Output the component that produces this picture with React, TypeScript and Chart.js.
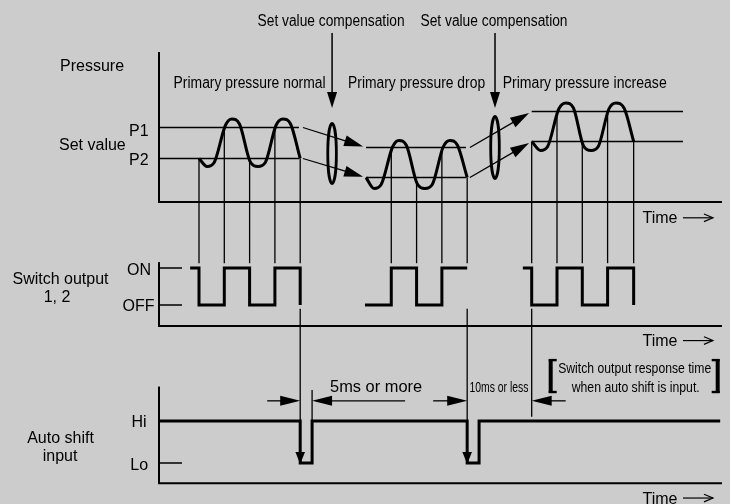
import React, { useEffect, useRef } from "react";
import { Chart, registerables } from "chart.js";

Chart.register(...registerables);

// ---------------- data ----------------
const sectionLabels = ["Primary pressure normal", "Primary pressure drop", "Primary pressure increase"];
const compensationLabel = "Set value compensation";
const pressureLabel = "Pressure";
const setValueLabel = "Set value";
const setValueNames = ["P1", "P2"];
const switchTitle = ["Switch output", "1, 2"];
const switchLevelNames = ["OFF", "ON"];
const autoTitle = ["Auto shift", "input"];
const autoLevelNames = ["Lo", "Hi"];
const timeLabel = "Time";
const timingLabels = ["5ms or more", "10ms or less"];
const responseNote = ["Switch output response time", "when auto shift is input."];

// pressure waves: time (half periods) and pressure
const waveNormalT = [0, 0.32, 0.6, 1.05, 1.3, 1.6, 2.03, 2.33, 2.62, 3.05, 3.32, 3.62, 4.0];
const waveNormalP = [4.35, 3.55, 3.95, 7.7, 8.3, 7.8, 4.0, 3.55, 3.95, 7.7, 8.3, 7.8, 4.35];
const waveDropT = [6.6, 6.92, 7.2, 7.65, 7.9, 8.2, 8.63, 8.93, 9.22, 9.65, 9.92, 10.22, 10.6];
const waveDropP = [2.45, 1.35, 1.75, 5.5, 6.15, 5.65, 1.8, 1.35, 1.75, 5.5, 6.15, 5.65, 2.45];
const waveIncreaseT = [13.15, 13.5, 13.78, 14.22, 14.5, 14.8, 15.2, 15.5, 15.78, 16.2, 16.48, 16.8, 17.18];
const waveIncreaseP = [6.05, 5.15, 5.55, 9.3, 9.9, 9.4, 5.6, 5.15, 5.55, 9.3, 9.9, 9.4, 6.05];

// set values per section
const setP1 = [7.45, 5.45, 9.05];
const setP2 = [4.35, 2.45, 6.05];
const setFrom = [-1.58, 6.6, 13.15];
const setTo = [3.95, 10.55, 19.13];

// switch output (0 = OFF, 1 = ON)
const switchNormalT = [-0.35, 0, 1, 2, 3, 4];
const switchNormalV = [1, 0, 1, 0, 1, 0];
const switchDropT = [6.56, 7.6, 8.6, 9.6, 10.6];
const switchDropV = [0, 1, 0, 1, 1];
const switchIncreaseT = [12.8, 13.15, 14.15, 15.15, 16.15, 17.18];
const switchIncreaseV = [1, 0, 1, 0, 1, 0];

// auto shift input (0 = Lo, 1 = Hi)
const autoT = [-1.58, 4, 4.47, 10.6, 11.07, 20.6];
const autoV = [1, 0, 1, 0, 1, 1];

// set value compensation events
const compensationT = [5.26, 11.7];
const compensationP = [4.85, 5.45];
const compensationSpan = [3.0, 3.1];

// ---------------- layout / style ----------------
const W = 730;
const H = 504;
const BG = "#cccccc";
const INK = "#000000";
const FONT = '"Liberation Sans", Arial, Helvetica, sans-serif';
const AXIS_T = -1.58;
const END_T = 20.67;

const T_ZERO_PX = 199;
const T_PX = 25.3;
function yRange(zeroPx: number, pxPerUnit: number) {
  return { min: (zeroPx - H) / pxPerUnit, max: zeroPx / pxPerUnit };
}
const pRange = yRange(202, 10);
const sRange = yRange(305, 37);
const aRange = yRange(463, 42);

function pts(T: number[], V: number[]) {
  return T.map((t, i) => ({ x: t, y: V[i] }));
}

function line(ctx: CanvasRenderingContext2D, x0: number, y0: number, x1: number, y1: number, w: number) {
  ctx.beginPath();
  ctx.lineWidth = w;
  ctx.moveTo(x0, y0);
  ctx.lineTo(x1, y1);
  ctx.stroke();
}

function head(ctx: CanvasRenderingContext2D, xt: number, yt: number, dx: number, dy: number, len: number, half: number) {
  const L = Math.hypot(dx, dy);
  const ux = dx / L;
  const uy = dy / L;
  const bx = xt - ux * len;
  const by = yt - uy * len;
  ctx.beginPath();
  ctx.moveTo(xt, yt);
  ctx.lineTo(bx - uy * half, by + ux * half);
  ctx.lineTo(bx + uy * half, by - ux * half);
  ctx.closePath();
  ctx.fill();
}

function arrow(ctx: CanvasRenderingContext2D, x0: number, y0: number, x1: number, y1: number, w: number, len: number, half: number) {
  const dx = x1 - x0;
  const dy = y1 - y0;
  const L = Math.hypot(dx, dy);
  line(ctx, x0, y0, x1 - (dx / L) * (len - 2), y1 - (dy / L) * (len - 2), w);
  head(ctx, x1, y1, dx, dy, len, half);
}

function text(ctx: CanvasRenderingContext2D, str: string, x: number, y: number, align: CanvasTextAlign, size: number, fit?: number) {
  ctx.save();
  ctx.font = `${size}px ${FONT}`;
  ctx.textBaseline = "alphabetic";
  ctx.textAlign = align;
  const w = ctx.measureText(str).width;
  const sx = fit ? fit / w : 1;
  ctx.translate(x, y);
  ctx.scale(sx, 1);
  ctx.fillText(str, 0, 0);
  ctx.restore();
}

function curveY(chart: any, dsIndex: number, px: number): number | null {
  const meta = chart.getDatasetMeta(dsIndex);
  try {
    meta.dataset && meta.dataset.updateControlPoints && meta.dataset.updateControlPoints(chart.chartArea, "x");
  } catch (e) {}
  const p = meta.data as any[];
  for (let i = 0; i < p.length - 1; i++) {
    const a = p[i];
    const b = p[i + 1];
    if (px >= a.x - 0.6 && px <= b.x + 0.6) {
      const s = Math.min(1, Math.max(0, (px - a.x) / (b.x - a.x)));
      const y1 = a.cp2y ?? a.y;
      const y2 = b.cp1y ?? b.y;
      const u = 1 - s;
      return u * u * u * a.y + 3 * u * u * s * y1 + 3 * u * s * s * y2 + s * s * s * b.y;
    }
  }
  return null;
}

const diagramPlugin = {
  id: "diagram",
  beforeDraw(chart: any) {
    const ctx = chart.ctx as CanvasRenderingContext2D;
    ctx.save();
    ctx.fillStyle = BG;
    ctx.fillRect(0, 0, chart.width, chart.height);
    ctx.restore();
  },
  afterDatasetsDraw(chart: any) {
    const ctx = chart.ctx as CanvasRenderingContext2D;
    const sc = chart.scales;
    const X = (t: number) => sc.x.getPixelForValue(t);
    const P = (v: number) => sc.yP.getPixelForValue(v);
    const S = (v: number) => sc.yS.getPixelForValue(v);
    const A = (v: number) => sc.yA.getPixelForValue(v);
    const ax = X(AXIS_T);
    const ex = X(END_T);

    ctx.save();
    ctx.strokeStyle = INK;
    ctx.fillStyle = INK;
    ctx.lineCap = "butt";

    // axes frames
    line(ctx, ax, P(15.0), ax, P(0), 2);
    line(ctx, ax - 1, P(0), ex, P(0), 2);
    line(ctx, ax, S(1.16), ax, S(-0.57), 2);
    line(ctx, ax - 1, S(-0.57), ex, S(-0.57), 2);
    line(ctx, ax, A(1.82), ax, A(-0.483), 2);
    line(ctx, ax - 1, A(-0.483), ex, A(-0.483), 2);

    // level ticks
    line(ctx, ax, S(1), ax + 23, S(1), 1.5);
    line(ctx, ax, S(0), ax + 23, S(0), 1.5);
    line(ctx, ax, A(0), ax + 23, A(0), 1.5);

    // connectors wave -> switch output
    const groups: [number, number[]][] = [
      [0, switchNormalT.slice(1)],
      [1, switchDropT.slice(1)],
      [2, switchIncreaseT.slice(1)],
    ];
    groups.forEach(([ds, times]) => {
      times.forEach((t) => {
        const x = X(t);
        const yTop = curveY(chart, ds, x);
        line(ctx, x, yTop == null ? P(setP2[ds]) : yTop, x, S(1.13), 1.3);
      });
    });

    // long verticals switch -> auto shift
    line(ctx, X(autoT[1]), S(-0.1), X(autoT[1]), A(1), 1.3);
    line(ctx, X(autoT[2]), A(1.74), X(autoT[2]), A(1), 1.3);
    line(ctx, X(autoT[3]), S(-0.1), X(autoT[3]), A(1), 1.3);
    line(ctx, X(switchIncreaseT[1]), S(-0.1), X(switchIncreaseT[1]), A(1.1), 1.3);

    // auto shift drop arrowheads
    [autoT[1], autoT[3]].forEach((t) => head(ctx, X(t), A(0) + 1, 0, 1, 12, 4.8));

    // dimension arrows
    const dy = A(1.48);
    arrow(ctx, X(autoT[1]) - 33, dy, X(autoT[1]), dy, 1.3, 20, 5);
    arrow(ctx, X(autoT[2]) + 93, dy, X(autoT[2]), dy, 1.3, 20, 5);
    arrow(ctx, X(autoT[3]) - 34, dy, X(autoT[3]), dy, 1.3, 20, 5);
    arrow(ctx, X(switchIncreaseT[1]) + 34, dy, X(switchIncreaseT[1]), dy, 1.3, 20, 5);

    // compensation arrows and ellipses
    compensationT.forEach((t, i) => {
      const x = X(t);
      arrow(ctx, x, P(16.9), x, P(9.4), 1.5, 16, 5);
      const cy = P(compensationP[i]);
      const ry = Math.abs(P(compensationP[i] - compensationSpan[i]) - cy);
      ctx.beginPath();
      ctx.lineWidth = 2.8;
      ctx.ellipse(x, cy, 4.3, ry, 0, 0, Math.PI * 2);
      ctx.stroke();
    });

    // set value shift arrows
    for (let i = 0; i < 2; i++) {
      [setP1, setP2].forEach((arr) => {
        const x0 = X(setTo[i]) + 4;
        const y0 = P(arr[i]);
        const x1 = X(setFrom[i + 1]);
        const y1 = P(arr[i + 1]);
        const L = Math.hypot(x1 - x0, y1 - y0);
        const g = 3;
        arrow(ctx, x0, y0, x1 - ((x1 - x0) / L) * g, y1 - ((y1 - y0) / L) * g, 1.3, 19, 5.5);
      });
    }

    // brackets
    const bl = X(switchIncreaseT[1]) + 19;
    const br = X(switchIncreaseT[1]) + 186;
    const bt = A(2.45);
    const bb = A(1.69);
    line(ctx, bl, bt - 1, bl, bb + 1, 4);
    line(ctx, bl - 2, bt, bl + 6, bt, 2.4);
    line(ctx, bl - 2, bb, bl + 6, bb, 2.4);
    line(ctx, br, bt - 1, br, bb + 1, 4);
    line(ctx, br + 2, bt, br - 6, bt, 2.4);
    line(ctx, br + 2, bb, br - 6, bb, 2.4);

    // time labels with arrows
    [P(-2.13), S(-1.11), A(-0.965)].forEach((by) => {
      text(ctx, timeLabel, ex - 79.5, by, "left", 16);
      const ay = by - 5.5;
      const x0 = ex - 39;
      const x1 = ex - 9;
      line(ctx, x0, ay, x1, ay, 1.2);
      ctx.beginPath();
      ctx.lineWidth = 1.2;
      ctx.moveTo(x1 - 9, ay - 3.8);
      ctx.lineTo(x1, ay);
      ctx.lineTo(x1 - 9, ay + 3.8);
      ctx.stroke();
    });

    // texts
    compensationT.forEach((t) => text(ctx, compensationLabel, X(t) - 1, P(17.65), "center", 16, 147));
    const mids = [
      (waveNormalT[0] + waveNormalT[waveNormalT.length - 1]) / 2,
      (waveDropT[0] + waveDropT[waveDropT.length - 1]) / 2,
      (waveIncreaseT[0] + waveIncreaseT[waveIncreaseT.length - 1]) / 2 + 0.08,
    ];
    const fits = [152, 137, 164];
    sectionLabels.forEach((s, i) => text(ctx, s, X(mids[i]), P(11.4), "center", 16, fits[i]));

    text(ctx, pressureLabel, ax - 99, P(13.1), "left", 16);
    text(ctx, setValueLabel, ax - 100, P(5.2), "left", 16);
    text(ctx, setValueNames[0], ax - 30, P(setP1[0]) + 8.5, "left", 16);
    text(ctx, setValueNames[1], ax - 30, P(setP2[0]) + 6.7, "left", 16);

    text(ctx, switchTitle[0], ax - 98.5, S(0.57), "center", 16);
    text(ctx, switchTitle[1], ax - 102, S(0.08), "center", 16);
    text(ctx, switchLevelNames[1], ax - 8, S(1) + 7, "right", 16);
    text(ctx, switchLevelNames[0], ax - 4.5, S(0) + 5.7, "right", 16);

    text(ctx, autoTitle[0], ax - 98.5, A(0.48), "center", 16);
    text(ctx, autoTitle[1], ax - 99, A(0.05), "center", 16);
    text(ctx, autoLevelNames[1], ax - 12.5, A(1) + 5.5, "right", 16);
    text(ctx, autoLevelNames[0], ax - 11, A(0) + 6.5, "right", 16);

    text(ctx, timingLabels[0], X(autoT[2]) + 64, A(1.69), "center", 16, 92);
    text(ctx, timingLabels[1], (X(autoT[3]) + X(switchIncreaseT[1])) / 2 - 0.5, A(1.68), "center", 15, 59);
    const nx = X(switchIncreaseT[1]) + 103;
    text(ctx, responseNote[0], nx, A(2.14), "center", 15.5, 153);
    text(ctx, responseNote[1], nx + 1, A(1.69), "center", 15.5, 128);

    ctx.restore();
  },
};

export default function App() {
  const ref = useRef<HTMLCanvasElement | null>(null);

  useEffect(() => {
    if (!ref.current) return;
    const base = { borderColor: INK, pointRadius: 0, fill: false, borderCapStyle: "butt", borderJoinStyle: "miter" } as any;
    const wave = (T: number[], V: number[]) => ({ ...base, data: pts(T, V), yAxisID: "yP", borderWidth: 3, borderJoinStyle: "round", cubicInterpolationMode: "monotone" });
    const setLine = (i: number, arr: number[]) => ({ ...base, data: [{ x: setFrom[i], y: arr[i] }, { x: setTo[i], y: arr[i] }], yAxisID: "yP", borderWidth: 1.6 });
    const step = (T: number[], V: number[], axis: string) => ({ ...base, data: pts(T, V), yAxisID: axis, borderWidth: 3, stepped: "before" });

    const chart = new Chart(ref.current, {
      type: "line",
      data: {
        datasets: [
          wave(waveNormalT, waveNormalP),
          wave(waveDropT, waveDropP),
          wave(waveIncreaseT, waveIncreaseP),
          setLine(0, setP1), setLine(0, setP2),
          setLine(1, setP1), setLine(1, setP2),
          setLine(2, setP1), setLine(2, setP2),
          step(switchNormalT, switchNormalV, "yS"),
          step(switchDropT, switchDropV, "yS"),
          step(switchIncreaseT, switchIncreaseV, "yS"),
          step(autoT, autoV, "yA"),
        ] as any,
      },
      options: {
        responsive: false,
        animation: false,
        events: [],
        layout: { padding: 0 },
        plugins: { legend: { display: false }, tooltip: { enabled: false }, title: { display: false } },
        scales: {
          x: { type: "linear", display: false, min: -T_ZERO_PX / T_PX, max: (W - T_ZERO_PX) / T_PX },
          y: { type: "linear", display: false },
          yP: { type: "linear", axis: "y", display: false, min: pRange.min, max: pRange.max },
          yS: { type: "linear", axis: "y", display: false, min: sRange.min, max: sRange.max },
          yA: { type: "linear", axis: "y", display: false, min: aRange.min, max: aRange.max },
        } as any,
      },
      plugins: [diagramPlugin as any],
    });
    return () => chart.destroy();
  }, []);

  return (
    <div style={{ position: "fixed", left: 0, top: 0, width: W, height: H, background: BG }}>
      <canvas ref={ref} width={W} height={H} style={{ display: "block" }} />
    </div>
  );
}
